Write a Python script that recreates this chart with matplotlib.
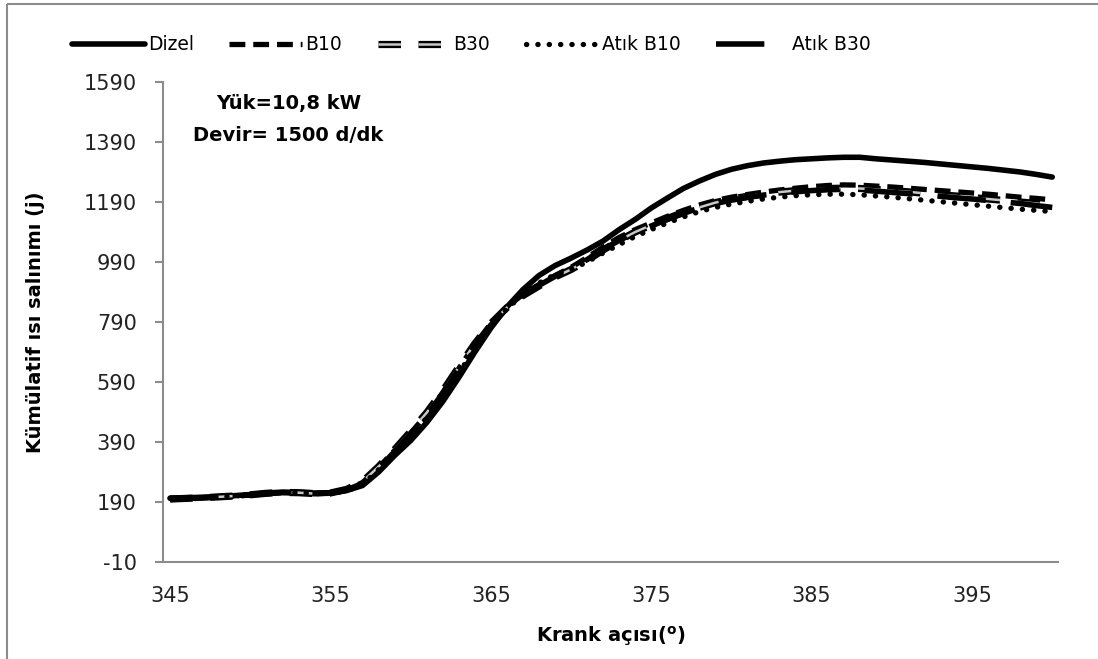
import numpy as np
import matplotlib.pyplot as plt
from matplotlib.lines import Line2D
import matplotlib.patheffects as pe

plt.rcParams['font.family'] = ['DejaVu Sans']
plt.rcParams['axes.unicode_minus'] = False

# crank angle (deg)
krank = list(range(345, 401))

dizel = [203, 204, 206, 208, 211, 215, 220, 223, 222, 220,
         221, 228, 245, 290, 345, 395, 455, 525, 605, 690,
         770, 840, 898, 945, 978, 1003, 1030, 1060, 1098, 1132,
         1170, 1203, 1235, 1260, 1282, 1299, 1311, 1320, 1326, 1331,
         1334, 1337, 1339, 1339, 1334, 1330, 1326, 1322, 1317, 1312,
         1307, 1302, 1296, 1290, 1282, 1273]

b10 = [198, 200, 203, 206, 209, 213, 218, 221, 220, 217,
       219, 230, 255, 305, 362, 420, 482, 555, 635, 715,
       785, 840, 882, 915, 945, 972, 1005, 1040, 1072, 1098,
       1120, 1142, 1162, 1180, 1195, 1206, 1215, 1223, 1230, 1236,
       1241, 1245, 1247, 1246, 1243, 1240, 1236, 1232, 1228, 1224,
       1220, 1216, 1211, 1206, 1202, 1197]

b30 = [200, 202, 204, 207, 210, 214, 219, 222, 221, 218,
       220, 232, 258, 308, 365, 425, 488, 560, 640, 718,
       785, 838, 878, 910, 940, 965, 995, 1030, 1062, 1090,
       1113, 1135, 1155, 1172, 1188, 1200, 1209, 1217, 1223, 1228,
       1232, 1235, 1236, 1235, 1232, 1228, 1224, 1219, 1214, 1210,
       1205, 1200, 1195, 1190, 1185, 1180]

atikB10 = [202, 203, 205, 207, 210, 214, 219, 222, 221, 218,
           220, 226, 248, 298, 352, 410, 470, 540, 620, 700,
           775, 835, 880, 920, 948, 965, 990, 1020, 1048, 1075,
           1098, 1120, 1140, 1158, 1172, 1183, 1192, 1200, 1206, 1211,
           1214, 1216, 1216, 1214, 1210, 1206, 1201, 1196, 1191, 1186,
           1181, 1176, 1171, 1166, 1162, 1158]

atikB30 = [201, 202, 204, 207, 210, 214, 218, 221, 220, 218,
           220, 230, 252, 302, 358, 418, 480, 552, 632, 712,
           780, 836, 878, 912, 942, 968, 998, 1032, 1062, 1088,
           1110, 1132, 1152, 1170, 1185, 1196, 1205, 1213, 1219, 1224,
           1228, 1231, 1232, 1230, 1226, 1222, 1218, 1213, 1209, 1204,
           1200, 1195, 1190, 1185, 1178, 1172]

yTicks = list(range(-10, 1591, 200))
xTicks = [345, 355, 365, 375, 385, 395]

fig = plt.figure(figsize=(10.98, 6.59), dpi=100)
ax = fig.add_axes([0.1485, 0.1472, 0.8151, 0.7284])

ax.plot(krank, dizel, color='black', lw=4.0, solid_capstyle='round', label='Dizel')
ax.plot(krank, b10, color='black', lw=3.8, dashes=(3.0, 1.5), label='B10')
# B30: grey dash with black outline
ax.plot(krank, b30, color='#c8c8c8', lw=1.8, dashes=(9, 7),
        path_effects=[pe.Stroke(linewidth=5.2, foreground='black'), pe.Normal()],
        label='B30')
ax.plot(krank, atikB10, color='black', lw=3.8, dashes=(0.05, 2.1),
        dash_capstyle='round', label='Atık B10')
ax.plot(krank, atikB30, color='black', lw=4.0, dashes=(8.7, 4.5), label='Atık B30')

ax.set_xlim(344.56, 400.36)
ax.set_ylim(-10, 1590)
ax.set_yticks(yTicks)
ax.set_xticks(xTicks)

for s in ['top', 'right']:
    ax.spines[s].set_visible(False)
for s in ['left', 'bottom']:
    ax.spines[s].set_color('#8c8c8c')
    ax.spines[s].set_linewidth(1.5)
ax.tick_params(axis='y', length=6, width=1.5, color='#8c8c8c', pad=13,
               labelsize=15, labelcolor='#222222')
ax.tick_params(axis='x', length=0, pad=17, labelsize=15, labelcolor='#222222')

ax.set_ylabel('Kümülatif ısı salınımı (j)', fontsize=14, fontweight='bold', labelpad=28)
ax.set_xlabel(r'Krank açısı($\mathregular{^o}$)', fontsize=14, fontweight='bold', labelpad=13)

ax.text(0.14, 0.955, 'Yük=10,8 kW', transform=ax.transAxes, ha='center', va='center',
        fontsize=14, fontweight='bold')
ax.text(0.14, 0.888, 'Devir= 1500 d/dk', transform=ax.transAxes, ha='center', va='center',
        fontsize=14, fontweight='bold')

leg = fig.legend(loc='center left', bbox_to_anchor=(0.05, 0.932), ncol=5, frameon=False,
                 handlelength=3.9, handletextpad=0.15, columnspacing=1.9,
                 prop={'size': 13.5})

# chart area border (left and top visible)
fig.add_artist(Line2D([7 / 1098, 7 / 1098], [0, 1 - 4 / 659], color='#8c8c8c',
                      lw=1.5, solid_capstyle='butt'))
fig.add_artist(Line2D([7 / 1098, 1.0], [1 - 4 / 659, 1 - 4 / 659], color='#8c8c8c',
                      lw=1.5, solid_capstyle='butt'))

fig.savefig('out.png', dpi=100)
